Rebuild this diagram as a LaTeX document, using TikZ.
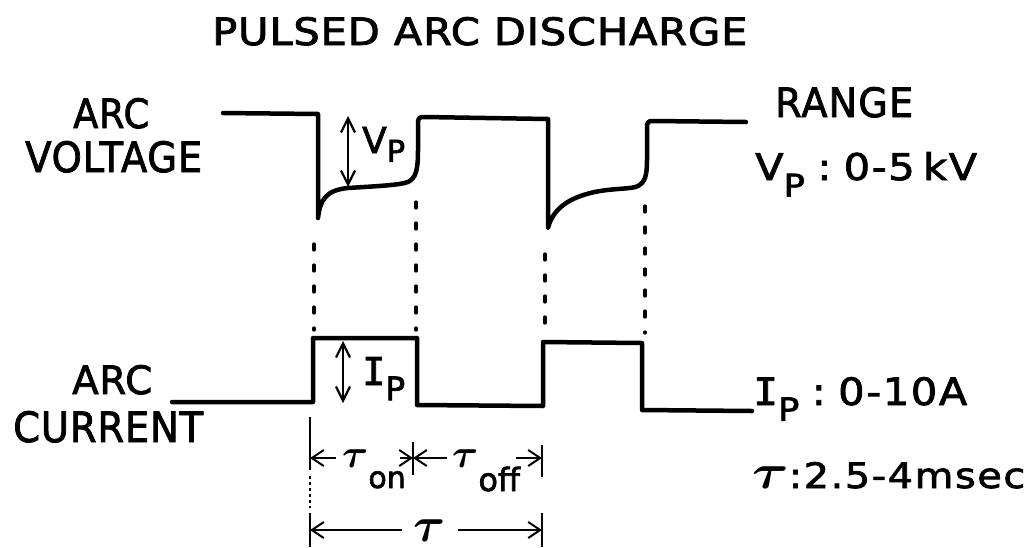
\documentclass[tikz,border=0pt]{standalone}
\usepackage{fix-cm}
\usepackage{fontspec}
\usepackage{graphicx}
\setmainfont{DejaVu Sans}[FakeBold=2]
\newfontfamily\serifI{DejaVu Sans Mono}[FakeBold=2]
\usetikzlibrary{arrows.meta}
\newcommand\tsym{{\boldmath$\tau$}}
\begin{document}
\begin{tikzpicture}[x=1pt,y=-1pt,
  trace/.style={line width=4.5pt, line join=round, line cap=round},
  tick/.style={line width=2pt},
  dimarrow/.style={line width=2pt, -{Straight Barb[length=12pt,width=16pt,line width=2pt]}},
  dblarrow/.style={line width=2pt, {Straight Barb[length=14pt,width=14pt,line width=2.2pt]}-{Straight Barb[length=14pt,width=14pt,line width=2.2pt]}},
  dotline/.style={line width=3.2pt, dash pattern=on 6pt off 15pt, line cap=round},
  lbl/.style={inner sep=0pt, anchor=base west},
  taulbl/.style={inner ysep=4pt, inner xsep=12pt, anchor=center}]
\path[use as bounding box] (0,0) rectangle (1036,547);

% ---- texts ----
\node[lbl] (title) at (212,45) {\resizebox{535pt}{28pt}{\addfontfeature{LetterSpace=2}PULSED ARC DISCHARGE}};
\node[lbl] (arcv) at (73,128) {\resizebox{76pt}{30pt}{\addfontfeature{LetterSpace=2}ARC}};
\node[lbl] (volt) at (25,172) {\resizebox{177pt}{31pt}{\addfontfeature{LetterSpace=2}VOLTAGE}};
\node[lbl] (arci) at (72,394) {\resizebox{80pt}{29pt}{\addfontfeature{LetterSpace=2}ARC}};
\node[lbl] (curr) at (13,442) {\resizebox{190pt}{31pt}{\addfontfeature{LetterSpace=2}CURRENT}};
\node[lbl] (range) at (775,117) {\resizebox{138pt}{30pt}{\addfontfeature{LetterSpace=3}RANGE}};
\node[lbl] (vrange) at (755,180) {\resizebox{222pt}{28pt}{\addfontfeature{LetterSpace=4}V\raisebox{-0.45em}{\scalebox{0.85}{P}}\hspace{0.3em}:\hspace{0.3em}0-5\hspace{0.2em}kV}};
\node[lbl] (irange) at (753,405) {\resizebox{214pt}{28pt}{\addfontfeature{LetterSpace=4}{\serifI I}\raisebox{-0.42em}{\scalebox{0.85}{P}}\hspace{0.3em}:\hspace{0.3em}0-10A}};
\node[lbl] (trange) at (752,488) {\resizebox{273pt}{26pt}{\addfontfeature{LetterSpace=4}{\fontsize{14}{14}\selectfont\tsym}:2.5-4msec}};

\node[lbl] (vp) at (362,153) {\resizebox{43pt}{26pt}{V\raisebox{-0.25em}{\scalebox{0.85}{P}}}};
\node[lbl] (ip) at (362,385) {\resizebox{43pt}{28pt}{{\serifI I}\raisebox{-0.4em}{\scalebox{0.85}{P}}}};

\node[lbl] (ton) at (342,467) {{\fontsize{40}{40}\selectfont\tsym}\raisebox{-21pt}{\fontsize{30}{30}\selectfont on}};
\node[lbl] (toff) at (452,467) {{\fontsize{40}{40}\selectfont\tsym}\raisebox{-24pt}{\fontsize{32}{32}\selectfont off}};
\node[taulbl] (tt) at (430,531) {\fontsize{49}{49}\selectfont\tsym};

% ---- voltage trace ----
\draw[trace] (223,113) -- (318,114) -- (318,218)
  .. controls (320,200) and (326,190) .. (348,188)
  .. controls (380,186) and (400,185) .. (408,182)
  .. controls (416,178) and (418,170) .. (418,150)
  -- (418,124) .. controls (418,118) and (419,117) .. (424,117)
  -- (548,119) -- (548,228)
  .. controls (552,212) and (565,197) .. (600,191)
  .. controls (620,188) and (632,189) .. (638,186)
  .. controls (645,182) and (647,176) .. (647,160)
  -- (647,128) .. controls (647,122) and (648,121) .. (653,121)
  -- (746,122);

% ---- current trace ----
\draw[trace] (172,402) -- (313,402) -- (313,338) -- (417,338) -- (417,405)
  -- (543,406) -- (543,342) -- (642,343) -- (642,410) -- (752,411);

% ---- dotted guide lines ----
\draw[dotline] (314,244) -- (314,330);
\draw[dotline] (416,202) -- (416,330);
\draw[dotline] (545,254) -- (545,334);
\draw[dotline] (645,206) -- (645,333);

% ---- amplitude arrows ----
\coordinate (vpt) at (348,116);
\coordinate (vpb) at (348,187);
\draw[dblarrow] (vpt) -- (vpb);
\coordinate (ipt) at (343,341);
\coordinate (ipb) at (343,403);
\draw[dblarrow] (ipt) -- (ipb);

% ---- timing ticks ----
\draw[tick] (310,417) -- (310,470);
\draw[tick, dashed] (310,476) -- (310,508);
\draw[tick] (310,513) -- (310,547);
\draw[tick] (413,442) -- (413,475);
\draw[tick] (542,445) -- (542,477);
\draw[tick] (542,513) -- (542,547);

\coordinate (a0) at (310,458);
\coordinate (a1) at (413,458);
\coordinate (a2) at (542,458);
\coordinate (b0) at (310,530);
\coordinate (b2) at (542,530);

\draw[dimarrow] ([xshift=-6pt]ton.west |- a0) -- (a0);
\draw[dimarrow] ([xshift=-6pt]ton.east |- a1) -- (a1);
\draw[dimarrow] ([xshift=-5pt]toff.west |- a1) -- (a1);
\draw[dimarrow] ([xshift=-4pt]toff.east |- a2) -- (a2);
\draw[dimarrow] (tt.west |- b0) -- (b0);
\draw[dimarrow] (tt.east |- b2) -- (b2);
\end{tikzpicture}
\end{document}
